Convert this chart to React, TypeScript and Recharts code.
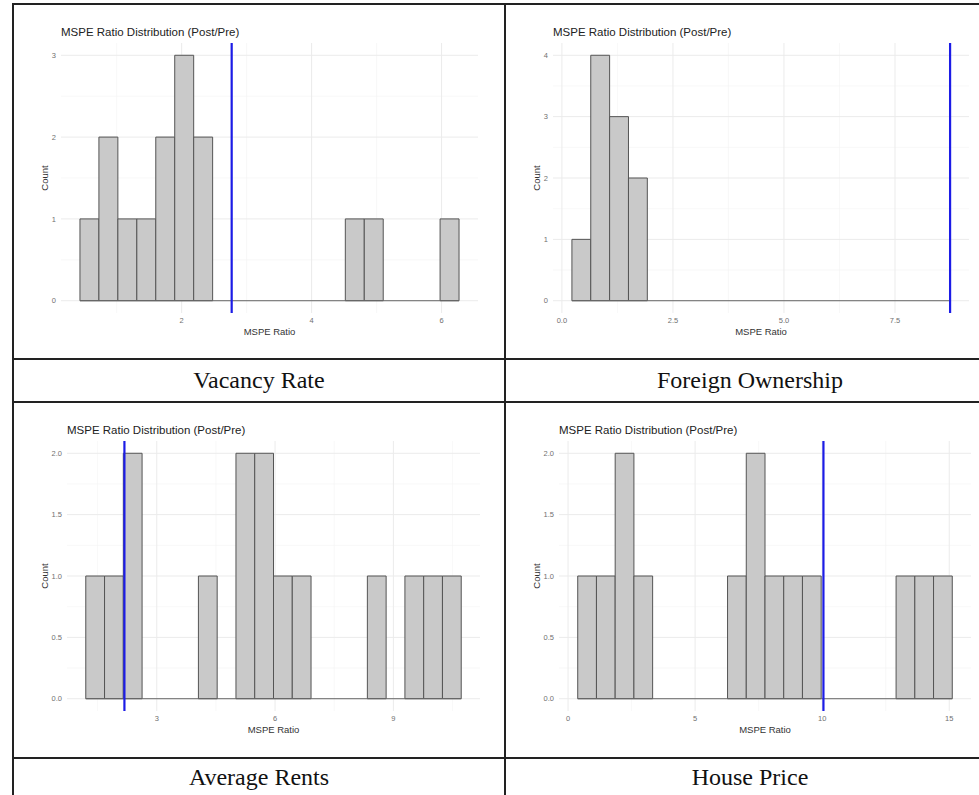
import React from 'react';
import { ComposedChart, XAxis, YAxis, CartesianGrid, ReferenceArea, ReferenceLine } from 'recharts';

// histogram counts per bin (20 bins each), bin start / width, and treated unit ratio
const vacancyCounts = [1, 2, 1, 1, 2, 3, 2, 0, 0, 0, 0, 0, 0, 0, 1, 1, 0, 0, 0, 1];
const vacancyBinStart = 0.435;
const vacancyBinWidth = 0.2917;
const vacancyTreated = 2.77;
const vacancyXTicks = [2, 4, 6];
const vacancyXMinor = [1, 3, 5];
const vacancyYTicks = [0, 1, 2, 3];
const vacancyYMinor = [0.5, 1.5, 2.5];

const foreignCounts = [1, 4, 3, 2, 0, 0, 0, 0, 0, 0, 0, 0, 0, 0, 0, 0, 0, 0, 0, 0];
const foreignBinStart = 0.225;
const foreignBinWidth = 0.4245;
const foreignTreated = 8.74;
const foreignXTicks = [0, 2.5, 5, 7.5];
const foreignXMinor = [1.25, 3.75, 6.25, 8.75];
const foreignYTicks = [0, 1, 2, 3, 4];
const foreignYMinor = [0.5, 1.5, 2.5, 3.5];

const rentsCounts = [1, 1, 2, 0, 0, 0, 1, 0, 2, 2, 1, 1, 0, 0, 0, 1, 0, 1, 1, 1];
const rentsBinStart = 1.2;
const rentsBinWidth = 0.476;
const rentsTreated = 2.18;
const rentsXTicks = [3, 6, 9];
const rentsXMinor = [1.5, 4.5, 7.5, 10.5];
const rentsYTicks = [0, 0.5, 1, 1.5, 2];
const rentsYMinor = [0.25, 0.75, 1.25, 1.75];

const houseCounts = [1, 1, 2, 1, 0, 0, 0, 0, 1, 2, 1, 1, 1, 0, 0, 0, 0, 1, 1, 1];
const houseBinStart = 0.38;
const houseBinWidth = 0.737;
const houseTreated = 10.05;
const houseXTicks = [0, 5, 10, 15];
const houseXMinor = [2.5, 7.5, 12.5];
const houseYTicks = [0, 0.5, 1, 1.5, 2];
const houseYMinor = [0.25, 0.75, 1.25, 1.75];

const panelLabels = ['Vacancy Rate', 'Foreign Ownership', 'Average Rents', 'House Price'];
const chartTitle = 'MSPE Ratio Distribution (Post/Pre)';

const sans = '"Liberation Sans", Arial, sans-serif';
const serif = '"Liberation Serif", "Times New Roman", serif';

type HistProps = {
  counts: number[];
  binStart: number;
  binWidth: number;
  treated: number;
  xTicks: number[];
  xMinor: number[];
  yTicks: number[];
  yMinor: number[];
  xFormat: (v: number) => string;
  yFormat: (v: number) => string;
  left: number;
  top: number;
  width: number;
  height: number;
  margin: { top: number; right: number; bottom: number; left: number };
  yAxisWidth: number;
};

function Histogram(p: HistProps) {
  const bins = p.counts.map((count, i) => ({
    x0: p.binStart + i * p.binWidth,
    x1: p.binStart + (i + 1) * p.binWidth,
    count,
  }));
  const binEnd = p.binStart + p.counts.length * p.binWidth;
  const lo = Math.min(p.binStart, p.treated);
  const hi = Math.max(binEnd, p.treated);
  const pad = (hi - lo) * 0.05;
  const ymax = Math.max(...p.counts);
  const plotLeft = p.left + p.margin.left + p.yAxisWidth;

  return (
    <>
      <div
        style={{
          position: 'absolute',
          left: plotLeft,
          top: p.top + p.margin.top - 18,
          fontFamily: sans,
          fontSize: 11.5,
          lineHeight: '14px',
          color: '#222',
          whiteSpace: 'nowrap',
        }}
      >
        {chartTitle}
      </div>
      <div style={{ position: 'absolute', left: p.left, top: p.top, fontFamily: sans }}>
        <ComposedChart width={p.width} height={p.height} data={bins} margin={p.margin}>
          <CartesianGrid horizontalValues={p.yMinor} verticalValues={p.xMinor} stroke="#f4f4f4" strokeWidth={0.6} />
          <CartesianGrid horizontalValues={p.yTicks} verticalValues={p.xTicks} stroke="#ebebeb" strokeWidth={1} />
          <XAxis
            type="number"
            dataKey="x0"
            domain={[lo - pad, hi + pad]}
            allowDataOverflow
            ticks={p.xTicks}
            tickFormatter={p.xFormat}
            axisLine={false}
            tickLine={false}
            tickSize={0}
            tickMargin={5}
            height={38}
            tick={{ fontSize: 7.5, fill: '#707070' }}
            label={{ value: 'MSPE Ratio', position: 'center', fontSize: 9.5, fill: '#333' }}
          />
          <YAxis
            type="number"
            domain={[-ymax * 0.05, ymax * 1.05]}
            allowDataOverflow
            ticks={p.yTicks}
            tickFormatter={p.yFormat}
            axisLine={false}
            tickLine={false}
            tickSize={0}
            tickMargin={5}
            width={p.yAxisWidth}
            tick={{ fontSize: 7.5, fill: '#707070' }}
            label={{ value: 'Count', position: 'center', angle: -90, fontSize: 9.5, fill: '#333' }}
          />
          <ReferenceLine
            segment={[{ x: p.binStart, y: 0 }, { x: binEnd, y: 0 }]}
            stroke="#666"
            strokeWidth={1}
          />
          {bins
            .filter((b) => b.count > 0)
            .map((b, i) => (
              <ReferenceArea
                key={i}
                x1={b.x0}
                x2={b.x1}
                y1={0}
                y2={b.count}
                fill="#c9c9c9"
                fillOpacity={1}
                stroke="#555"
                strokeWidth={1}
                ifOverflow="visible"
              />
            ))}
          <ReferenceLine x={p.treated} stroke="#1c1ce6" strokeWidth={2.2} />
        </ComposedChart>
      </div>
    </>
  );
}

const int = (v: number) => String(v);
const one = (v: number) => v.toFixed(1);

function Line({ left, top, width, height }: { left: number; top: number; width: number; height: number }) {
  return <div style={{ position: 'absolute', left, top, width, height, background: '#222' }} />;
}

function Caption({ text, left, top, width, height }: { text: string; left: number; top: number; width: number; height: number }) {
  return (
    <div
      style={{
        position: 'absolute',
        left,
        top,
        width,
        height,
        display: 'flex',
        alignItems: 'center',
        justifyContent: 'center',
        fontFamily: serif,
        fontSize: 24,
        color: '#111',
      }}
    >
      {text}
    </div>
  );
}

export default function App() {
  return (
    <div style={{ position: 'absolute', left: 0, top: 0, width: 979, height: 795, overflow: 'hidden', background: '#fff' }}>
      <Histogram
        counts={vacancyCounts}
        binStart={vacancyBinStart}
        binWidth={vacancyBinWidth}
        treated={vacancyTreated}
        xTicks={vacancyXTicks}
        xMinor={vacancyXMinor}
        yTicks={vacancyYTicks}
        yMinor={vacancyYMinor}
        xFormat={int}
        yFormat={int}
        left={13}
        top={4}
        width={492}
        height={355}
        margin={{ top: 39, right: 27, bottom: 8, left: 16 }}
        yAxisWidth={32}
      />
      <Histogram
        counts={foreignCounts}
        binStart={foreignBinStart}
        binWidth={foreignBinWidth}
        treated={foreignTreated}
        xTicks={foreignXTicks}
        xMinor={foreignXMinor}
        yTicks={foreignYTicks}
        yMinor={foreignYMinor}
        xFormat={one}
        yFormat={int}
        left={505}
        top={4}
        width={490}
        height={355}
        margin={{ top: 39, right: 26, bottom: 8, left: 16 }}
        yAxisWidth={32}
      />
      <Histogram
        counts={rentsCounts}
        binStart={rentsBinStart}
        binWidth={rentsBinWidth}
        treated={rentsTreated}
        xTicks={rentsXTicks}
        xMinor={rentsXMinor}
        yTicks={rentsYTicks}
        yMinor={rentsYMinor}
        xFormat={int}
        yFormat={one}
        left={13}
        top={402}
        width={492}
        height={356}
        margin={{ top: 39, right: 25, bottom: 9, left: 10 }}
        yAxisWidth={44}
      />
      <Histogram
        counts={houseCounts}
        binStart={houseBinStart}
        binWidth={houseBinWidth}
        treated={houseTreated}
        xTicks={houseXTicks}
        xMinor={houseXMinor}
        yTicks={houseYTicks}
        yMinor={houseYMinor}
        xFormat={int}
        yFormat={one}
        left={505}
        top={402}
        width={490}
        height={356}
        margin={{ top: 39, right: 24, bottom: 9, left: 10 }}
        yAxisWidth={44}
      />

      <Caption text={panelLabels[0]} left={13} top={360} width={492} height={41} />
      <Caption text={panelLabels[1]} left={505} top={360} width={490} height={41} />
      <Caption text={panelLabels[2]} left={13} top={759} width={492} height={36} />
      <Caption text={panelLabels[3]} left={505} top={759} width={490} height={36} />

      {/* table rules */}
      <Line left={12} top={3} width={985} height={2} />
      <Line left={12} top={358} width={985} height={2} />
      <Line left={12} top={401} width={985} height={2} />
      <Line left={12} top={757} width={985} height={2} />
      <Line left={12} top={3} width={2} height={800} />
      <Line left={504} top={3} width={2} height={800} />
    </div>
  );
}
